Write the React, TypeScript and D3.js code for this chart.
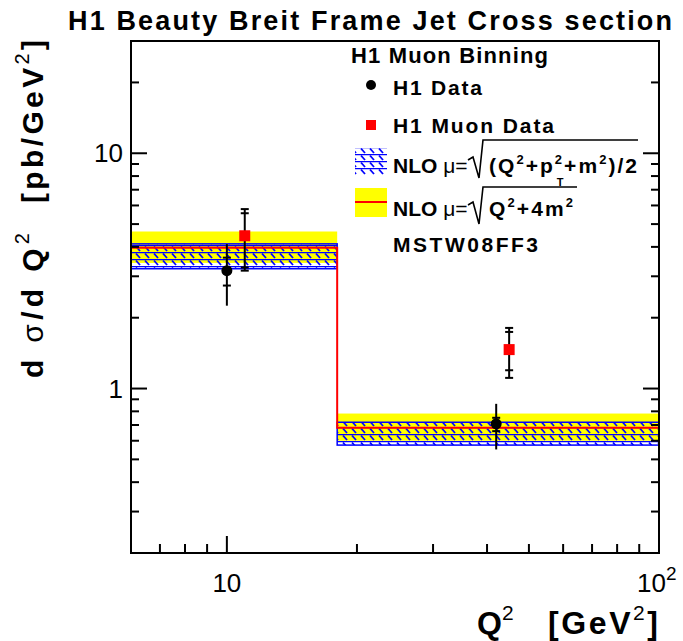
import { useEffect, useRef } from 'react';
import * as d3 from 'd3';

// bin edges in Q^2 [GeV^2]
const binEdges = [6, 18, 100];

// NLO mu = sqrt((Q^2+pT^2+m^2)/2), blue hatched band
const nloPtLow = [3.23, 0.575];
const nloPtHigh = [4.12, 0.719];

// NLO mu = sqrt(Q^2+4m^2), red line + yellow band
const nloQCentral = [3.97, 0.681];
const nloQLow = [3.42, 0.6];
const nloQHigh = [4.65, 0.783];

// H1 data (black circles)
const h1X = [10, 42];
const h1Y = [3.17, 0.708];
const h1StatLo = [2.74, 0.659];
const h1StatHi = [3.6, 0.751];
const h1TotLo = [2.25, 0.551];
const h1TotHi = [4.11, 0.861];

// H1 muon data (red squares)
const muonX = [11, 45];
const muonY = [4.46, 1.464];
const muonStatLo = [3.27, 1.196];
const muonStatHi = [5.56, 1.74];
const muonTotLo = [3.17, 1.11];
const muonTotHi = [5.79, 1.81];

const xMajorTicks = [10, 100];
const xMinorTicks = [7, 8, 9, 20, 30, 40, 50, 60, 70, 80, 90];
const yMajorTicks = [1, 10];
const yMinorTicks = [0.2, 0.3, 0.4, 0.5, 0.6, 0.7, 0.8, 0.9, 2, 3, 4, 5, 6, 7, 8, 9, 20];

const FONT = "'Liberation Sans', Arial, Helvetica, sans-serif";

export default function App() {
  const svgRef = useRef<SVGSVGElement>(null);

  useEffect(() => {
    if (!svgRef.current) return;
    const svg = d3.select(svgRef.current);
    svg.selectAll('*').remove();

    const left = 131, right = 659, top = 41, bottom = 553;

    const x = d3.scaleLog().domain([6, 100]).range([left, right]);
    const y = d3.scaleLog().domain([0.2, 30]).range([bottom, top]);

    const defs = svg.append('defs');
    const pat = defs.append('pattern')
      .attr('id', 'hatch')
      .attr('patternUnits', 'userSpaceOnUse')
      .attr('width', 9)
      .attr('height', 7);
    pat.append('line')
      .attr('x1', 0).attr('y1', 0.6).attr('x2', 9).attr('y2', 0.6)
      .attr('stroke', '#0000ff').attr('stroke-width', 1.3);
    pat.append('line')
      .attr('x1', 1).attr('y1', 1.5).attr('x2', 5).attr('y2', 6)
      .attr('stroke', '#0000ff').attr('stroke-width', 1.8);

    const bins = d3.range(binEdges.length - 1);

    // yellow band
    svg.append('g').selectAll('rect')
      .data(bins)
      .enter().append('rect')
      .attr('x', i => x(binEdges[i]))
      .attr('width', i => x(binEdges[i + 1]) - x(binEdges[i]))
      .attr('y', i => y(nloQHigh[i]))
      .attr('height', i => y(nloQLow[i]) - y(nloQHigh[i]))
      .attr('fill', '#ffff00');

    // blue hatched band
    svg.append('g').selectAll('rect')
      .data(bins)
      .enter().append('rect')
      .attr('x', i => x(binEdges[i]))
      .attr('width', i => x(binEdges[i + 1]) - x(binEdges[i]))
      .attr('y', i => y(nloPtHigh[i]))
      .attr('height', i => y(nloPtLow[i]) - y(nloPtHigh[i]))
      .attr('fill', 'url(#hatch)')
      .attr('stroke', '#0000ff')
      .attr('stroke-width', 1.5);

    // red step line
    const stepPts: [number, number][] = binEdges.map((e, i) => [e, nloQCentral[Math.min(i, nloQCentral.length - 1)]]);
    const step = d3.line<[number, number]>()
      .x(d => x(d[0]))
      .y(d => y(d[1]))
      .curve(d3.curveStepAfter);
    svg.append('path')
      .datum(stepPts)
      .attr('fill', 'none')
      .attr('stroke', '#ff0000')
      .attr('stroke-width', 2)
      .attr('d', step);

    // error bars
    const drawErrors = (xs: number[], lo: number[], hi: number[], sLo: number[], sHi: number[], endTicks: boolean) => {
      const g = svg.append('g').attr('stroke', '#000').attr('stroke-width', 2);
      xs.forEach((xv, i) => {
        const cx = x(xv);
        g.append('line').attr('x1', cx).attr('x2', cx).attr('y1', y(lo[i])).attr('y2', y(hi[i]));
        const ticks = [sLo[i], sHi[i]];
        if (endTicks) ticks.push(lo[i], hi[i]);
        ticks.forEach(t => {
          g.append('line').attr('x1', cx - 4).attr('x2', cx + 4).attr('y1', y(t)).attr('y2', y(t));
        });
      });
    };
    drawErrors(h1X, h1TotLo, h1TotHi, h1StatLo, h1StatHi, false);
    drawErrors(muonX, muonTotLo, muonTotHi, muonStatLo, muonStatHi, true);

    svg.append('g').selectAll('circle')
      .data(h1X)
      .enter().append('circle')
      .attr('cx', d => x(d))
      .attr('cy', (_d, i) => y(h1Y[i]))
      .attr('r', 5.5)
      .attr('fill', '#000');

    svg.append('g').selectAll('rect')
      .data(muonX)
      .enter().append('rect')
      .attr('x', d => x(d) - 5.5)
      .attr('y', (_d, i) => y(muonY[i]) - 5.5)
      .attr('width', 11)
      .attr('height', 11)
      .attr('fill', '#ff0000');

    // frame
    svg.append('rect')
      .attr('x', left).attr('y', top)
      .attr('width', right - left).attr('height', bottom - top)
      .attr('fill', 'none').attr('stroke', '#000').attr('stroke-width', 2);

    const tickG = svg.append('g').attr('stroke', '#000').attr('stroke-width', 2);
    const yTick = (v: number, len: number) => {
      tickG.append('line').attr('x1', left).attr('x2', left + len).attr('y1', y(v)).attr('y2', y(v));
      tickG.append('line').attr('x1', right).attr('x2', right - len).attr('y1', y(v)).attr('y2', y(v));
    };
    yMajorTicks.forEach(v => yTick(v, 16));
    yMinorTicks.forEach(v => yTick(v, 8));
    const xTick = (v: number, len: number) => {
      tickG.append('line').attr('x1', x(v)).attr('x2', x(v)).attr('y1', bottom).attr('y2', bottom - len);
    };
    xMajorTicks.forEach(v => xTick(v, 17));
    xMinorTicks.forEach(v => xTick(v, 9));

    // tick labels
    const lab = svg.append('g').attr('font-family', FONT).attr('font-size', 26).attr('fill', '#000');
    lab.append('text').attr('x', 123).attr('y', y(10) + 9).attr('text-anchor', 'end').text('10');
    lab.append('text').attr('x', 123).attr('y', y(1) + 9).attr('text-anchor', 'end').text('1');
    lab.append('text').attr('x', x(10)).attr('y', 592).attr('text-anchor', 'middle').text('10');
    const hundred = lab.append('text').attr('x', x(100) - 22).attr('y', 592).attr('text-anchor', 'start');
    hundred.append('tspan').text('10');
    hundred.append('tspan').attr('dy', -12).attr('font-size', 19).text('2');

    // title
    svg.append('text')
      .attr('x', 68).attr('y', 30)
      .attr('font-family', FONT).attr('font-size', 27).attr('font-weight', 'bold')
      .attr('textLength', 604)
      .text('H1 Beauty Breit Frame Jet Cross section');

    // y axis label
    const yl = svg.append('g').attr('transform', 'translate(43,0) rotate(-90)')
      .attr('font-family', FONT).attr('font-weight', 'bold').attr('font-size', 30);
    const yl1 = yl.append('text').attr('x', -378).attr('y', 0).attr('text-anchor', 'start').attr('textLength', 145);
    yl1.append('tspan').text('d ');
    yl1.append('tspan').attr('font-weight', 'normal').text('σ');
    yl1.append('tspan').text('/d Q');
    yl1.append('tspan').attr('dy', -14).attr('font-size', 20).attr('font-weight', 'normal').text('2');
    const yl2 = yl.append('text').attr('x', -203).attr('y', 0).attr('text-anchor', 'start').attr('textLength', 163);
    yl2.append('tspan').text('[pb/GeV');
    yl2.append('tspan').attr('dy', -14).attr('font-size', 20).attr('font-weight', 'normal').text('2');
    yl2.append('tspan').attr('dy', 14).text(']');

    // x axis label
    const xl = svg.append('g').attr('font-family', FONT).attr('font-weight', 'bold').attr('font-size', 32);
    const xl1 = xl.append('text').attr('x', 477).attr('y', 634);
    xl1.append('tspan').text('Q');
    xl1.append('tspan').attr('dy', -14).attr('font-size', 21).attr('font-weight', 'normal').text('2');
    const xl2 = xl.append('text').attr('x', 548).attr('y', 634).attr('textLength', 110);
    xl2.append('tspan').text('[GeV');
    xl2.append('tspan').attr('dy', -14).attr('font-size', 21).attr('font-weight', 'normal').text('2');
    xl2.append('tspan').attr('dy', 14).text(']');

    // legend
    const lg = svg.append('g').attr('font-family', FONT).attr('font-weight', 'bold').attr('fill', '#000');
    lg.append('text').attr('x', 351).attr('y', 63).attr('font-size', 22).attr('textLength', 197).text('H1 Muon Binning');
    lg.append('circle').attr('cx', 371).attr('cy', 85).attr('r', 5).attr('fill', '#000');
    lg.append('text').attr('x', 393).attr('y', 95).attr('font-size', 21).attr('textLength', 89).text('H1 Data');
    lg.append('rect').attr('x', 366).attr('y', 120).attr('width', 10).attr('height', 10).attr('fill', '#ff0000');
    lg.append('text').attr('x', 393).attr('y', 133).attr('font-size', 21).attr('textLength', 161).text('H1 Muon Data');

    lg.append('rect').attr('x', 355).attr('y', 148).attr('width', 32).attr('height', 27).attr('fill', 'url(#hatch)');
    const n1 = lg.append('text').attr('x', 393).attr('y', 173).attr('font-size', 21);
    n1.append('tspan').text('NLO ');
    n1.append('tspan').attr('font-weight', 'normal').text('μ=');
    const f1 = lg.append('text').attr('x', 489).attr('y', 173).attr('font-size', 21).attr('textLength', 148);
    f1.append('tspan').text('(Q');
    f1.append('tspan').attr('dy', -9).attr('font-size', 13).text('2');
    f1.append('tspan').attr('dy', 9).text('+p');
    f1.append('tspan').attr('dy', -9).attr('font-size', 13).text('2');
    f1.append('tspan').attr('dy', 9).text('+m');
    f1.append('tspan').attr('dy', -9).attr('font-size', 13).text('2');
    f1.append('tspan').attr('dy', 9).text(')/2');
    lg.append('text').attr('x', 560).attr('y', 186).attr('font-size', 11).attr('text-anchor', 'middle').text('T');

    lg.append('rect').attr('x', 355).attr('y', 188).attr('width', 32).attr('height', 29).attr('fill', '#ffff00');
    lg.append('line').attr('x1', 355).attr('x2', 387).attr('y1', 202).attr('y2', 202)
      .attr('stroke', '#ff0000').attr('stroke-width', 2);
    const n2 = lg.append('text').attr('x', 393).attr('y', 216).attr('font-size', 21);
    n2.append('tspan').text('NLO ');
    n2.append('tspan').attr('font-weight', 'normal').text('μ=');
    const f2 = lg.append('text').attr('x', 489).attr('y', 216).attr('font-size', 21).attr('textLength', 84);
    f2.append('tspan').text('Q');
    f2.append('tspan').attr('dy', -9).attr('font-size', 13).text('2');
    f2.append('tspan').attr('dy', 9).text('+4m');
    f2.append('tspan').attr('dy', -9).attr('font-size', 13).text('2');

    // radical signs
    lg.append('path')
      .attr('d', 'M468,160 L473,157 L479,178 L483,140 L638,140')
      .attr('fill', 'none').attr('stroke', '#000').attr('stroke-width', 1.6);
    lg.append('path')
      .attr('d', 'M468,205 L473,202 L479,224 L483,187 L577,187')
      .attr('fill', 'none').attr('stroke', '#000').attr('stroke-width', 1.6);

    lg.append('text').attr('x', 393).attr('y', 252).attr('font-size', 21).attr('textLength', 145).text('MSTW08FF3');
  }, []);

  return (
    <svg
      ref={svgRef}
      width={683}
      height={641}
      style={{ position: 'absolute', left: 0, top: 0, background: '#fff' }}
    ></svg>
  );
}
